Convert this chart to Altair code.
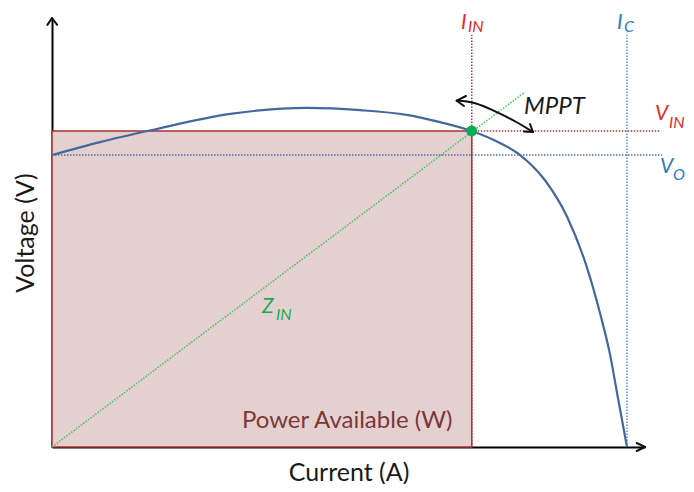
import altair as alt
import pandas as pd

# I-V curve of the PV source (normalised: I_C = 1, V_IN = 1)
current = [0.000, 0.0835, 0.174, 0.310, 0.443, 0.536, 0.617, 0.675, 0.730,
           0.779, 0.814, 0.857, 0.896, 0.930, 0.953, 0.970, 0.984, 1.000]
voltage = [0.924, 0.965, 1.003, 1.054, 1.073, 1.066, 1.051, 1.028, 1.000,
           0.962, 0.924, 0.845, 0.728, 0.570, 0.424, 0.297, 0.158, 0.000]

I_IN, V_IN = 0.730, 1.000
I_C, V_O = 1.000, 0.924
X_MAX, Y_MAX = 1.0313, 1.3576

# reference lines: x, y, x2, y2, colour
ref_x  = [I_IN, I_IN, I_C, 0.0]
ref_y  = [0.0, V_IN, 0.0, V_O]
ref_x2 = [I_IN, 1.0574, I_C, 1.0609]
ref_y2 = [1.304, V_IN, 1.304, V_O]
ref_c  = ["#b23a3a", "#b23a3a", "#5b8fd0", "#4a6fb0"]

# load line Z_IN through the operating point
z_x = [0.0, 0.8226]
z_y = [0.0, 1.1234]

# MPPT double arrow
mppt_x = [0.7038, 0.7322, 0.7739, 0.8087, 0.8365]
mppt_y = [1.0959, 1.0937, 1.0601, 1.0285, 0.9968]

# arrow heads (segments): x, y, x2, y2
head_x  = [0.0, 0.0, X_MAX, X_MAX, 0.7038, 0.7038, 0.8365, 0.8365]
head_y  = [Y_MAX, Y_MAX, 0.0, 0.0, 1.0959, 1.0959, 0.9968, 0.9968]
head_x2 = [-0.0080, 0.0090, 1.0169, 1.0169, 0.7200, 0.7165, 0.8209, 0.8313]
head_y2 = [1.3360, 1.3360, 0.0127, -0.0127, 1.1108, 1.0791, 0.9984, 1.0222]

# labels (x = left edge, y = baseline)
lab_text  = ["I", "IN", "I", "C", "MPPT", "V", "IN", "V", "O", "Z", "IN"]
lab_x     = [0.7113, 0.7235, 0.9826, 0.9948, 0.8209, 1.0487, 1.0730, 1.0574, 1.0800, 0.3652, 0.3896]
lab_y     = [1.3228, 1.3133, 1.3228, 1.3133, 1.0538, 1.0348, 1.0095, 0.8671, 0.8449, 0.4241, 0.4019]
lab_color = ["#e8282b", "#e8282b", "#2f7bc4", "#2f7bc4", "#1a1a1a", "#e8282b", "#e8282b",
             "#2f7bc4", "#2f7bc4", "#1faa55", "#1faa55"]
lab_kind  = ["main", "sub", "main", "sub", "mppt", "main", "sub", "main", "sub", "main", "sub"]

power_text = ["Power Available (W)"]
power_x = [0.3304]
power_y = [0.0601]

FONT = "Lato"

xs = alt.Scale(domain=[0, X_MAX], nice=False, zero=False)
ys = alt.Scale(domain=[0, Y_MAX], nice=False, zero=False)
ax_x = alt.Axis(title="Current (A)", domain=True, domainColor="black", domainWidth=2,
                ticks=False, labels=False, grid=False, titleFont=FONT, titleFontSize=25,
                titleFontWeight="normal", titleColor="#1a1a1a", titlePadding=13)
ax_y = alt.Axis(title="Voltage (V)", domain=True, domainColor="black", domainWidth=2,
                ticks=False, labels=False, grid=False, titleFont=FONT, titleFontSize=25,
                titleFontWeight="normal", titleColor="#1a1a1a", titlePadding=14)

X = lambda f: alt.X(f, type="quantitative", scale=xs, axis=ax_x)
Y = lambda f: alt.Y(f, type="quantitative", scale=ys, axis=ax_y)

rect_df = pd.DataFrame({"x": [0.0], "x2": [I_IN], "y": [0.0], "y2": [V_IN]})
rect = alt.Chart(rect_df).mark_rect(fill="#e5d0d0", stroke="#a83232", strokeWidth=1.5).encode(
    x=X("x"), x2="x2", y=Y("y"), y2="y2")

ref_df = pd.DataFrame({"x": ref_x, "y": ref_y, "x2": ref_x2, "y2": ref_y2, "c": ref_c})
refs = alt.Chart(ref_df).mark_rule(strokeDash=[1.5, 1.5], strokeWidth=1.5).encode(
    x=X("x"), y=Y("y"), x2="x2", y2="y2", color=alt.Color("c:N", scale=None))

z_df = pd.DataFrame({"x": [z_x[0]], "y": [z_y[0]], "x2": [z_x[1]], "y2": [z_y[1]]})
zline = alt.Chart(z_df).mark_rule(strokeDash=[1.5, 1.5], strokeWidth=1.5, color="#3cc46a").encode(
    x=X("x"), y=Y("y"), x2="x2", y2="y2")

iv_df = pd.DataFrame({"I": current, "V": voltage})
curve = alt.Chart(iv_df).mark_line(color="#44689c", strokeWidth=2.2, interpolate="monotone").encode(
    x=X("I"), y=Y("V"), order=alt.Order("I:Q"))

pt_df = pd.DataFrame({"I": [I_IN], "V": [V_IN]})
point = alt.Chart(pt_df).mark_circle(color="#00b050", opacity=1, size=120).encode(
    x=X("I"), y=Y("V"))

mppt_df = pd.DataFrame({"x": mppt_x, "y": mppt_y, "o": list(range(len(mppt_x)))})
mppt = alt.Chart(mppt_df).mark_line(color="#111111", strokeWidth=2, interpolate="basis").encode(
    x=X("x"), y=Y("y"), order="o:Q")

head_df = pd.DataFrame({"x": head_x, "y": head_y, "x2": head_x2, "y2": head_y2})
heads = alt.Chart(head_df).mark_rule(color="#111111", strokeWidth=2, strokeCap="round").encode(
    x=X("x"), y=Y("y"), x2="x2", y2="y2")

lab_df = pd.DataFrame({"t": lab_text, "x": lab_x, "y": lab_y, "c": lab_color, "k": lab_kind})


def labels(kind, size):
    return alt.Chart(lab_df).transform_filter(alt.datum.k == kind).mark_text(
        font=FONT, fontSize=size, fontStyle="italic", align="left", baseline="alphabetic").encode(
        x=X("x"), y=Y("y"), text="t:N", color=alt.Color("c:N", scale=None))


main_lab = labels("main", 21)
sub_lab = labels("sub", 16)
mppt_lab = labels("mppt", 24)

pw_df = pd.DataFrame({"t": power_text, "x": power_x, "y": power_y})
power = alt.Chart(pw_df).mark_text(font=FONT, fontSize=24, align="left", baseline="alphabetic",
                                   color="#7a3838").encode(x=X("x"), y=Y("y"), text="t:N")

chart = alt.layer(rect, refs, zline, curve, point, mppt, heads, main_lab, sub_lab, mppt_lab, power).properties(
    width=593, height=429,
    padding={"left": 44, "top": 10, "right": 41, "bottom": 37},
    autosize=alt.AutoSizeParams(type="none"),
    background="white",
).configure_view(stroke=None)

chart.save("out.html", embed_options={"renderer": "svg", "actions": False})
